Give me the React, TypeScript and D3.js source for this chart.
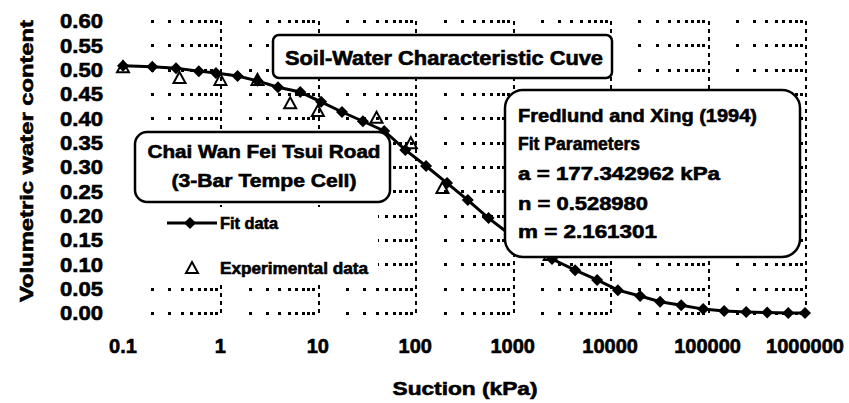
import { useRef, useEffect } from 'react'
import * as d3 from 'd3'

// Fit data (diamonds)
const fitSuction = [0.1, 0.2, 0.35, 0.6, 0.9, 1.5, 2.4, 3.9, 6.6, 10.8, 17.7, 29, 48, 79, 129, 212, 346, 565, 930, 1530, 2530, 4370, 7350, 12000, 20300, 32600, 53600, 90200, 148000, 249000, 409000, 673000, 1000000]
const fitTheta = [0.508, 0.506, 0.503, 0.497, 0.493, 0.487, 0.477, 0.464, 0.454, 0.434, 0.413, 0.394, 0.374, 0.335, 0.302, 0.267, 0.232, 0.195, 0.162, 0.134, 0.111, 0.088, 0.068, 0.047, 0.035, 0.023, 0.016, 0.008, 0.004, 0.002, 0.001, 0.0, 0.0]

// Experimental data (open triangles)
const expSuction = [0.1, 0.38, 1, 2.4, 5.2, 10, 40, 90, 190, 2400]
const expTheta = [0.505, 0.483, 0.479, 0.479, 0.431, 0.415, 0.401, 0.349, 0.257, 0.119]

const yTicks = [0, 0.05, 0.1, 0.15, 0.2, 0.25, 0.3, 0.35, 0.4, 0.45, 0.5, 0.55, 0.6]
const xTicks = [0.1, 1, 10, 100, 1000, 10000, 100000, 1000000]
const xTickLabels = ['0.1', '1', '10', '100', '1000', '10000', '100000', '1000000']

const titleText = 'Soil-Water Characteristic Cuve'
const siteLines = ['Chai Wan Fei Tsui Road', '(3-Bar Tempe Cell)']
const paramLines = ['Fredlund and Xing (1994)', 'Fit Parameters', 'a = 177.342962 kPa', 'n = 0.528980', 'm = 2.161301']
const paramWidths = [239, 122, 202, 130, 139]

const FONT = '"Liberation Sans", Arial, sans-serif'

export default function App() {
  const svgRef = useRef<SVGSVGElement>(null)

  useEffect(() => {
    const width = 849
    const height = 403
    const svg = d3.select(svgRef.current)
      .attr('width', width)
      .attr('height', height)
    svg.selectAll('*').remove()

    svg.append('rect').attr('width', width).attr('height', height).attr('fill', '#fff')

    const x = d3.scaleLog().domain([0.1, 1e6]).range([123, 805])
    const y = d3.scaleLinear().domain([0, 0.6]).range([313, 21])
    const px = (v: number) => Math.round(v) + 0.5

    const grid = svg.append('g').attr('stroke', '#000').attr('fill', 'none')
      .attr('shape-rendering', 'crispEdges')

    // minor gridlines only survive as dots where they cross the value gridlines
    const minors: number[] = []
    for (let k = -1; k < 6; k++) {
      for (let m = 2; m <= 9; m++) minors.push(m * Math.pow(10, k))
    }
    const crossings = yTicks.flatMap(t => minors.map(s => ({ s, t })))
    svg.append('g').attr('shape-rendering', 'crispEdges')
      .selectAll('rect')
      .data(crossings)
      .join('rect')
      .attr('x', d => Math.round(x(d.s)) - 1)
      .attr('y', d => Math.round(y(d.t)) - 1)
      .attr('width', 2.5)
      .attr('height', 2.5)
      .attr('fill', '#000')

    // major vertical gridlines
    grid.selectAll('line.major')
      .data(xTicks.slice(1))
      .join('line')
      .attr('class', 'major')
      .attr('x1', d => px(x(d))).attr('x2', d => px(x(d)))
      .attr('y1', y(0.6)).attr('y2', y(0))
      .attr('stroke-width', 2)
      .attr('stroke-dasharray', '4,4')

    // fit curve
    const fitData = fitSuction.map((s, i) => ({ s, t: fitTheta[i] }))
    const line = d3.line<{ s: number, t: number }>().x(d => x(d.s)).y(d => y(d.t))
    svg.append('path')
      .datum(fitData)
      .attr('d', line)
      .attr('fill', 'none')
      .attr('stroke', '#000')
      .attr('stroke-width', 3)

    const diamond = 'M0,-6L6,0L0,6L-6,0Z'
    const tri = 'M0,-6L6,5L-6,5Z'

    svg.append('g').selectAll('path')
      .data(fitData)
      .join('path')
      .attr('d', diamond)
      .attr('transform', d => `translate(${x(d.s)},${y(d.t)})`)
      .attr('fill', '#000')

    const expData = expSuction.map((s, i) => ({ s, t: expTheta[i] }))
    svg.append('g').selectAll('path')
      .data(expData)
      .join('path')
      .attr('d', tri)
      .attr('transform', d => `translate(${x(d.s)},${y(d.t)})`)
      .attr('fill', 'none')
      .attr('stroke', '#000')
      .attr('stroke-width', 2)

    const bold = (sel: any, size: number) => sel
      .attr('font-family', FONT)
      .attr('font-weight', 'bold')
      .attr('font-size', size)
      .attr('fill', '#000')
      .attr('stroke', '#000')
      .attr('stroke-width', 0.6)

    // y tick labels
    bold(svg.append('g').selectAll('text')
      .data(yTicks)
      .join('text')
      .attr('x', 103)
      .attr('y', d => y(d))
      .attr('dy', '0.36em')
      .attr('text-anchor', 'end')
      .attr('textLength', 43)
      .attr('lengthAdjust', 'spacingAndGlyphs')
      .text(d => d.toFixed(2)), 20)

    // x tick labels
    bold(svg.append('g').selectAll('text')
      .data(xTicks)
      .join('text')
      .attr('x', d => x(d))
      .attr('y', 353)
      .attr('text-anchor', 'middle')
      .text((d, i) => xTickLabels[i]), 20)

    // axis titles
    bold(svg.append('text')
      .attr('transform', 'translate(33,161) rotate(-90)')
      .attr('text-anchor', 'middle')
      .attr('textLength', 282)
      .attr('lengthAdjust', 'spacingAndGlyphs')
      .text('Volumetric water content'), 19)

    bold(svg.append('text')
      .attr('x', 465)
      .attr('y', 395)
      .attr('text-anchor', 'middle')
      .attr('textLength', 145)
      .attr('lengthAdjust', 'spacingAndGlyphs')
      .text('Suction (kPa)'), 19)

    // legend
    const lg = svg.append('g')
    lg.append('rect').attr('x', 150).attr('y', 207).attr('width', 228).attr('height', 76).attr('fill', '#fff')
    lg.append('line').attr('x1', 167).attr('x2', 217).attr('y1', 223).attr('y2', 223)
      .attr('stroke', '#000').attr('stroke-width', 3)
    lg.append('path').attr('d', diamond).attr('transform', 'translate(190,223)').attr('fill', '#000')
    lg.append('path').attr('d', tri).attr('transform', 'translate(192,268)')
      .attr('fill', 'none').attr('stroke', '#000').attr('stroke-width', 2)
    bold(lg.append('text').attr('x', 220).attr('y', 229)
      .attr('textLength', 58).attr('lengthAdjust', 'spacingAndGlyphs')
      .text('Fit data'), 16)
    bold(lg.append('text').attr('x', 220).attr('y', 274)
      .attr('textLength', 148).attr('lengthAdjust', 'spacingAndGlyphs')
      .text('Experimental data'), 16)

    // title box
    svg.append('rect').attr('x', 273).attr('y', 35).attr('width', 339).attr('height', 43).attr('rx', 6)
      .attr('fill', '#fff').attr('stroke', '#000').attr('stroke-width', 2.5)
    bold(svg.append('text').attr('x', 444).attr('y', 65).attr('text-anchor', 'middle')
      .attr('textLength', 318).attr('lengthAdjust', 'spacingAndGlyphs')
      .text(titleText), 20)

    // site box
    svg.append('rect').attr('x', 135).attr('y', 132).attr('width', 255).attr('height', 70).attr('rx', 12)
      .attr('fill', '#fff').attr('stroke', '#000').attr('stroke-width', 2.5)
    const siteLens = [233, 185]
    bold(svg.append('g').selectAll('text')
      .data(siteLines)
      .join('text')
      .attr('x', 264)
      .attr('y', (d, i) => 158 + i * 29)
      .attr('text-anchor', 'middle')
      .attr('textLength', (d, i) => siteLens[i]).attr('lengthAdjust', 'spacingAndGlyphs')
      .text(d => d), 19)

    // parameter box
    svg.append('rect').attr('x', 505).attr('y', 90).attr('width', 295).attr('height', 167).attr('rx', 18)
      .attr('fill', '#fff').attr('stroke', '#000').attr('stroke-width', 2.5)
    const pBase = [122, 150, 180, 210, 238]
    bold(svg.append('g').selectAll('text')
      .data(paramLines)
      .join('text')
      .attr('x', 518)
      .attr('y', (d, i) => pBase[i])
      .attr('textLength', (d, i) => paramWidths[i]).attr('lengthAdjust', 'spacingAndGlyphs')
      .text(d => d), 19)
  }, [])

  return <svg ref={svgRef} style={{ display: 'block', position: 'absolute', left: 0, top: 0 }} />
}
